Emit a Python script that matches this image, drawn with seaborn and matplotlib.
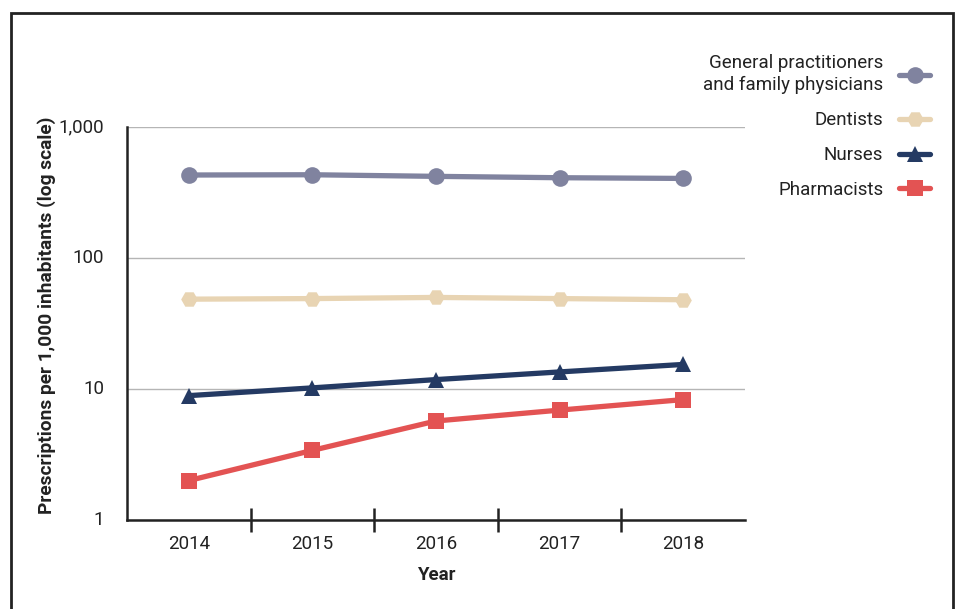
import matplotlib
matplotlib.use("Agg")
import matplotlib.pyplot as plt
import seaborn as sns
import pandas as pd
import numpy as np
from matplotlib.lines import Line2D
from matplotlib.patches import Rectangle
from matplotlib.ticker import FixedLocator, NullFormatter

years = [2014, 2015, 2016, 2017, 2018]
gp = [430, 432, 420, 410, 405]
dentists = [48.5, 49, 50, 49, 48]
nurses = [8.9, 10.2, 11.8, 13.5, 15.4]
pharmacists = [2.0, 3.4, 5.7, 6.9, 8.3]

series_names = ["General practitioners\nand family physicians", "Dentists", "Nurses", "Pharmacists"]
colors = ["#80839f", "#e8d4b3", "#243a63", "#e35353"]
markers = ["o", "H", "^", "s"]

df = pd.DataFrame({
    "Year": years * 4,
    "Value": gp + dentists + nurses + pharmacists,
    "Series": sum([[n] * len(years) for n in series_names], []),
})

sns.set_theme(style="white")
plt.rcParams["font.family"] = ["Roboto", "DejaVu Sans"]

fig = plt.figure(figsize=(9.59, 6.09), dpi=100)
ax = fig.add_axes([127/959, 89/609, 618/959, 393/609])

sns.lineplot(data=df, x="Year", y="Value", hue="Series", style="Series",
             palette=dict(zip(series_names, colors)),
             markers=dict(zip(series_names, markers)), dashes=False,
             linewidth=3.8, markersize=12, markeredgewidth=0, ax=ax, legend=False)

ax.set_yscale("log")
ax.set_ylim(1, 1000)
ax.set_xlim(2013.5, 2018.5)
ax.yaxis.set_major_locator(FixedLocator([1, 10, 100, 1000]))
ax.set_yticklabels(["1", "10", "100", "1,000"])
ax.yaxis.set_minor_locator(FixedLocator([]))
ax.yaxis.set_minor_formatter(NullFormatter())
ax.grid(axis="y", color="#b5b5b5", linewidth=1)
ax.set_axisbelow(True)

ax.xaxis.set_major_locator(FixedLocator(years))
ax.set_xticklabels([str(y) for y in years])
ax.xaxis.set_minor_locator(FixedLocator([2014.5, 2015.5, 2016.5, 2017.5]))
ax.tick_params(axis="x", which="major", length=0, labelsize=13.5, colors="#222222", pad=11)
ax.tick_params(axis="x", which="minor", direction="inout", length=17, width=1.8, color="#222222", bottom=True)
ax.tick_params(axis="y", which="major", length=0, labelsize=13.5, colors="#222222", pad=16.5)
for lab in ax.get_yticklabels():
    lab.set_verticalalignment("center")

for s in ["top", "right"]:
    ax.spines[s].set_visible(False)
for s in ["left", "bottom"]:
    ax.spines[s].set_color("#222222")
    ax.spines[s].set_linewidth(1.8)

ax.set_xlabel("Year", fontsize=13.5, fontweight="bold", color="#222222")
ax.xaxis.set_label_coords(0.5, -(575 - 520) / 393)
ax.set_ylabel("Prescriptions per 1,000 inhabitants (log scale)", fontsize=13.8,
              fontweight="bold", color="#222222")
ax.yaxis.set_label_coords((47 - 127) / 618, 0.52)
ax.yaxis.label.set_verticalalignment("center")
ax.xaxis.label.set_verticalalignment("center")

handles = [Line2D([0], [0], color=c, marker=m, linewidth=3.8, markersize=12, markeredgewidth=0)
           for c, m in zip(colors, markers)]
leg = fig.legend(handles, series_names, loc="upper right", bbox_to_anchor=(930/959, 1 - 54/609),
                 frameon=False, markerfirst=False, fontsize=13.5, handlelength=1.65,
                 labelspacing=0.9, handletextpad=0.85, borderpad=0, borderaxespad=0)
for t in leg.get_texts():
    t.set_multialignment("right")
    t.set_linespacing(1.3)
    t.set_color("#222222")

fig.patches.append(Rectangle((11/959, -0.05), 942/959, 1.05 - 13/609, transform=fig.transFigure,
                             fill=False, edgecolor="#222222", linewidth=2, zorder=10))

fig.savefig("out.png", dpi=100)
